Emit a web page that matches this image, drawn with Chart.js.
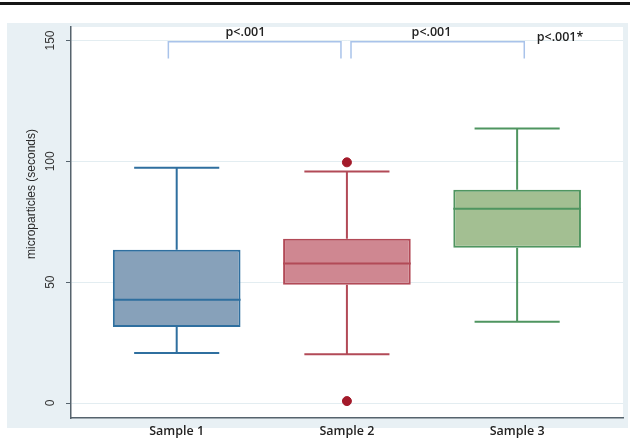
<!DOCTYPE html>
<html>
<head>
<meta charset="utf-8">
<script src="https://cdn.jsdelivr.net/npm/chart.js@4.4.1/dist/chart.umd.min.js"></script>
<style>
  html, body { margin: 0; padding: 0; background: #fff; }
</style>
</head>
<body>
<canvas id="box-chart" width="630" height="440"></canvas>
<script>
// === Data ===
const categories = ['Sample 1', 'Sample 2', 'Sample 3'];
const positions = [1, 2, 3];
const whiskerLow = [20.7, 20.2, 33.6];
const lowerQuartile = [31.5, 48.9, 64.2];
const medians = [42.7, 57.7, 80.4];
const upperQuartile = [63.4, 68.0, 88.3];
const whiskerHigh = [97.4, 95.8, 113.6];
const outlierGroup = [2, 2];
const outlierValues = [99.6, 0.8];
const yTickValues = [0, 50, 100, 150];
const pLabels = ['p<.001', 'p<.001', 'p<.001*'];

// === Styles ===
const boxFill = ['#87a1ba', '#cf8791', '#a3bf92'];
const boxEdge = ['#2f6f9f', '#b24a57', '#4f9560'];
const outlierColor = '#a31a2a';
const bracketColor = '#a9c3ea';
const textFont = "'Open Sans', sans-serif";
const axisFont = "'Liberation Sans', Arial, sans-serif";

// annotation placement (in data units)
const bracketSpans = [[0.951, 1.965], [2.024, 3.042]];
const bracketTop = 149.5;
const bracketFoot = 142.6;
const pLabelX = [1.404, 2.497, 3.252];
const pLabelY = [153.5, 153.5, 151.2];

// light blue frame, black rule, white plot area
const backdrop = {
  id: 'backdrop',
  beforeDraw(chart) {
    const { ctx, chartArea: a } = chart;
    ctx.save();
    ctx.fillStyle = '#ffffff';
    ctx.fillRect(0, 0, chart.width, chart.height);
    ctx.fillStyle = '#151515';
    ctx.fillRect(0, 2, chart.width, 3);
    ctx.fillStyle = '#e8f0f4';
    ctx.fillRect(7, 23, 621, 405);
    ctx.fillStyle = '#ffffff';
    ctx.fillRect(a.left, a.top, a.right - a.left, a.bottom - a.top);
    ctx.restore();
  }
};

// whiskers, caps and medians on top of the floating bars
const whiskers = {
  id: 'whiskers',
  afterDatasetsDraw(chart) {
    const { ctx, scales: { x, y } } = chart;
    const bars = chart.getDatasetMeta(0).data;
    ctx.save();
    ctx.lineWidth = 2;
    positions.forEach((pos, i) => {
      const cx = x.getPixelForValue(pos);
      const capL = x.getPixelForValue(pos - 0.25);
      const capR = x.getPixelForValue(pos + 0.25);
      ctx.strokeStyle = boxEdge[i];
      ctx.beginPath();
      ctx.moveTo(cx, y.getPixelForValue(upperQuartile[i]));
      ctx.lineTo(cx, y.getPixelForValue(whiskerHigh[i]));
      ctx.moveTo(cx, y.getPixelForValue(lowerQuartile[i]));
      ctx.lineTo(cx, y.getPixelForValue(whiskerLow[i]));
      ctx.moveTo(capL, y.getPixelForValue(whiskerHigh[i]));
      ctx.lineTo(capR, y.getPixelForValue(whiskerHigh[i]));
      ctx.moveTo(capL, y.getPixelForValue(whiskerLow[i]));
      ctx.lineTo(capR, y.getPixelForValue(whiskerLow[i]));
      const half = bars[i].width / 2;
      ctx.moveTo(bars[i].x - half, y.getPixelForValue(medians[i]));
      ctx.lineTo(bars[i].x + half, y.getPixelForValue(medians[i]));
      ctx.stroke();
    });
    ctx.restore();
  }
};

// significance brackets, p-values and the y axis title
const annotations = {
  id: 'annotations',
  afterDraw(chart) {
    const { ctx, scales: { x, y } } = chart;
    ctx.save();
    ctx.strokeStyle = bracketColor;
    ctx.lineWidth = 1.5;
    bracketSpans.forEach(([from, to]) => {
      const l = x.getPixelForValue(from), r = x.getPixelForValue(to);
      const t = y.getPixelForValue(bracketTop), b = y.getPixelForValue(bracketFoot);
      ctx.beginPath();
      ctx.moveTo(l, b);
      ctx.lineTo(l, t);
      ctx.lineTo(r, t);
      ctx.lineTo(r, b);
      ctx.stroke();
    });
    ctx.fillStyle = '#222';
    ctx.font = `600 12.5px ${textFont}`;
    ctx.textAlign = 'center';
    ctx.textBaseline = 'middle';
    pLabels.forEach((txt, i) => {
      ctx.fillText(txt, x.getPixelForValue(pLabelX[i]), y.getPixelForValue(pLabelY[i]));
    });
    ctx.translate(32, 194);
    ctx.rotate(-Math.PI / 2);
    ctx.fillStyle = '#2a2a2a';
    ctx.font = `12px ${axisFont}`;
    ctx.fillText('microparticles (seconds)', 0, 0);
    ctx.restore();
  }
};

const ctx = document.getElementById('box-chart').getContext('2d');

const chart = new Chart(ctx, {
  type: 'bar',
  data: {
    datasets: [{
      type: 'bar',
      label: 'IQR',
      data: positions.map((pos, i) => ({ x: pos, y: [lowerQuartile[i], upperQuartile[i]] })),
      backgroundColor: boxFill,
      borderColor: boxEdge,
      borderWidth: 2,
      borderSkipped: false,
      barPercentage: 0.75,
      categoryPercentage: 1
    }, {
      type: 'scatter',
      label: 'Outliers',
      data: outlierGroup.map((g, i) => ({ x: g, y: outlierValues[i] })),
      backgroundColor: outlierColor,
      borderColor: outlierColor,
      pointRadius: 4.5
    }]
  },
  options: {
    responsive: false,
    animation: false,
    layout: { padding: { top: 27, right: 7, left: 0, bottom: 0 } },
    plugins: {
      legend: { display: false },
      tooltip: { enabled: false }
    },
    scales: {
      x: {
        type: 'linear',
        offset: false,
        min: 0.379,
        max: 3.622,
        afterFit: scale => { scale.height = 22; },
        afterBuildTicks: scale => { scale.ticks = positions.map(v => ({ value: v })); },
        grid: { display: false, drawTicks: false, offset: false },
        border: { display: true, color: '#56636d', width: 1.5 },
        ticks: {
          padding: 6,
          color: '#222',
          font: { family: textFont, size: 12.5, weight: 600 },
          callback: value => categories[positions.indexOf(value)] || ''
        }
      },
      y: {
        min: -6.2,
        max: 155.6,
        afterFit: scale => { scale.width = 71; },
        afterBuildTicks: scale => { scale.ticks = yTickValues.map(v => ({ value: v })); },
        grid: { color: '#e3edf1', lineWidth: 1, tickLength: 5, tickColor: '#56636d' },
        border: { display: true, color: '#56636d', width: 1.5 },
        ticks: {
          minRotation: 90,
          maxRotation: 90,
          crossAlign: 'center',
          padding: 5,
          color: '#333',
          font: { family: axisFont, size: 12 }
        }
      }
    }
  },
  plugins: [backdrop, whiskers, annotations]
});
</script>
</body>
</html>
